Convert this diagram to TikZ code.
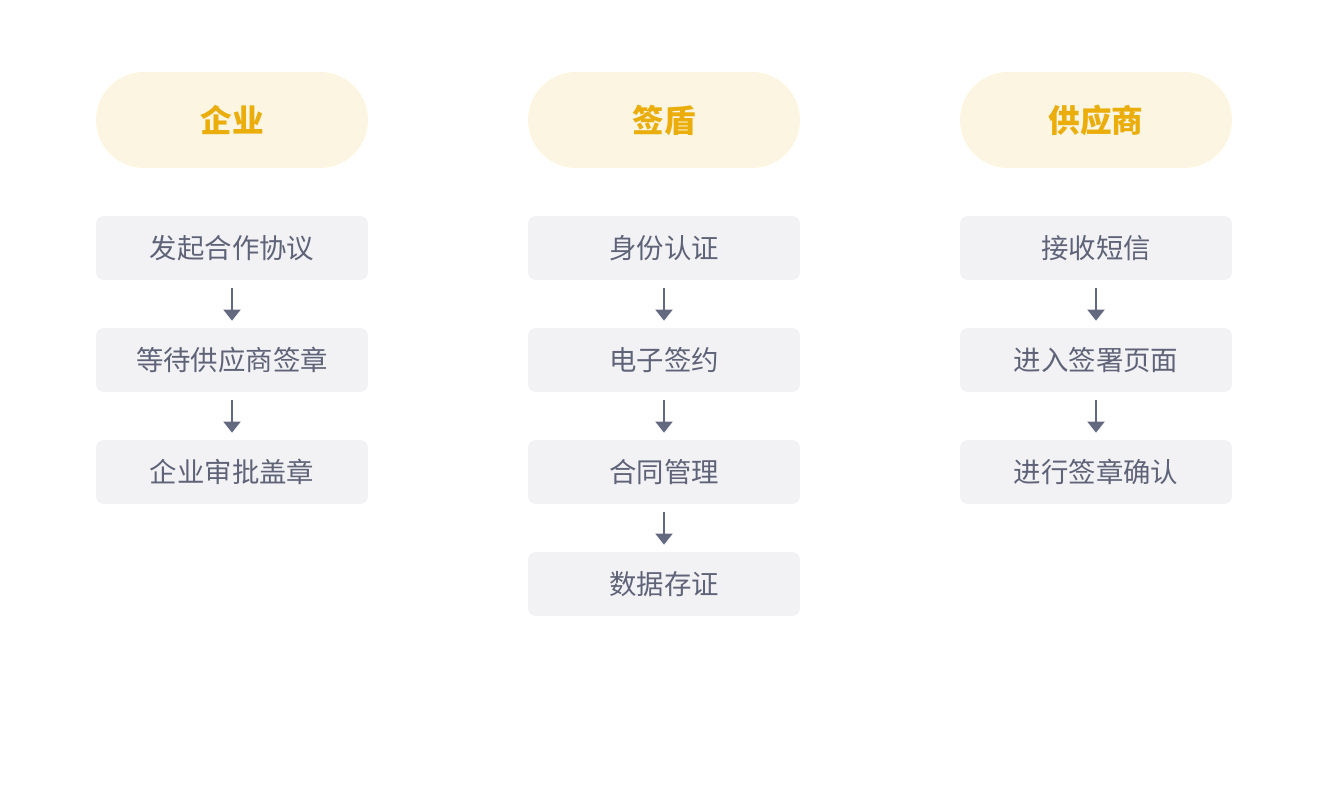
\documentclass[tikz,border=0pt]{standalone}
\usepackage{fontspec}
\setmainfont{Noto Sans CJK SC}
\usetikzlibrary{arrows.meta}

\definecolor{headfill}{HTML}{FBF5E2}
\definecolor{headtext}{HTML}{EBAD0A}
\definecolor{boxfill}{HTML}{F2F2F5}
\definecolor{boxtext}{HTML}{5F6378}
\definecolor{arrowcol}{HTML}{646980}

\begin{document}
\begin{tikzpicture}
		[x=0.02cm,y=-0.02cm,
		%Styles
		head node/.style={rounded corners=0.96cm,fill=headfill,minimum width=5.44cm,minimum height=1.92cm,
			inner sep=0pt,text=headtext,font=\fontsize{18}{18}\selectfont\bfseries},
		step node/.style={rounded corners=0.16cm,fill=boxfill,minimum width=5.44cm,minimum height=1.28cm,
			inner sep=0pt,text=boxtext,font=\fontsize{15.6}{15.6}\selectfont},
		flow/.style={color=arrowcol,line width=1.1pt,-{Triangle[width=0.34cm,length=0.22cm]},
			shorten <=0.16cm,shorten >=0.14cm}
		]
		
		\useasboundingbox (0,0) rectangle (1328,804);
		
		%Headers
		\node[head node] (h1) at (232, 120) {企业};
		\node[head node] (h2) at (664, 120) {签盾};
		\node[head node] (h3) at (1096, 120) {供应商};
		
		%Column 1
		\node[step node] (a1) at (232, 248) {发起合作协议};
		\node[step node] (a2) at (232, 360) {等待供应商签章};
		\node[step node] (a3) at (232, 472) {企业审批盖章};
		
		%Column 2
		\node[step node] (b1) at (664, 248) {身份认证};
		\node[step node] (b2) at (664, 360) {电子签约};
		\node[step node] (b3) at (664, 472) {合同管理};
		\node[step node] (b4) at (664, 584) {数据存证};
		
		%Column 3
		\node[step node] (c1) at (1096, 248) {接收短信};
		\node[step node] (c2) at (1096, 360) {进入签署页面};
		\node[step node] (c3) at (1096, 472) {进行签章确认};
		
		\path[flow]
			(a1) edge (a2)
			(a2) edge (a3)
			(b1) edge (b2)
			(b2) edge (b3)
			(b3) edge (b4)
			(c1) edge (c2)
			(c2) edge (c3);
	\end{tikzpicture}
\end{document}
